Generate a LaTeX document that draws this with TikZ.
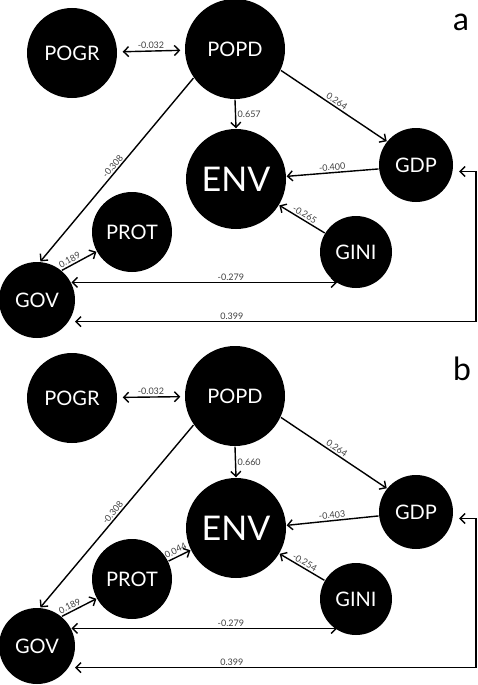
\documentclass[tikz,border=0pt]{standalone}
\usepackage{fontspec}
\setmainfont{Lato}
\usepackage{tikz}
\usetikzlibrary{arrows.meta}

\begin{document}
\begin{tikzpicture}[> = {Straight Barb[length=5pt,width=10pt]}, % arrow head style
	x=1pt, y=-1pt, % pixel-like grid, y going down
	line width=1.4pt,
	var/.style={circle,fill=black,text=white,inner sep=0pt,font=\fontsize{20}{20}\selectfont},
	coef/.style={font=\fontsize{9}{9}\selectfont,text=black!75,inner sep=1.5pt},
	panel/.style={font=\fontsize{32}{32}\selectfont}]
	\useasboundingbox (0,0) rectangle (478,685);

	% panel a
	\node[panel] (labA) at (461,22) {a};
	\node[var,minimum size=90pt] (pogrA) at (72,53) {POGR};
	\node[var,minimum size=100pt] (popdA) at (235,49) {POPD};
	\node[var,minimum size=100pt,font=\fontsize{34}{34}\selectfont] (envA) at (236,179) {ENV};
	\node[var,minimum size=74pt] (gdpA) at (416,165) {GDP};
	\node[var,minimum size=72pt] (giniA) at (356,252) {GINI};
	\node[var,minimum size=80pt] (protA) at (132,232) {PROT};
	\node[var,minimum size=76pt] (govA) at (37,300) {GOV};
	\coordinate (edgeA) at (476,0);

	\draw [<->,shorten <=5pt,shorten >=4pt] (pogrA) -- node[coef,above] {-0.032} (popdA);
	\draw [->] (popdA.south) -- node[coef,right] {0.657} (envA.north);
	\draw [->] (popdA.-25) -- node[coef,above,sloped] {0.264} (gdpA.141);
	\draw [->] (popdA.-145) -- node[coef,above,sloped] {-0.308} (govA.85);
	\draw [->] (gdpA.186) -- node[coef,above,sloped] {-0.400} (envA.3);
	\draw [->] (giniA) -- node[coef,above,sloped] {-0.265} (envA);
	\draw [->] (govA.50) -- node[coef,above,sloped,pos=0.3] {0.189} (protA.-151);
	\draw [<->] (govA.27) -- node[coef,above,pos=0.6] {-0.279} (govA.27 -| giniA.-121);
	\draw [<->,shorten <=6pt,shorten >=6pt] (gdpA.-10) -- (gdpA.-10 -| edgeA)
		-- (govA.-34 -| edgeA) -- node[coef,above,pos=0.6] {0.399} (govA.-34);

	% panel b
	\begin{scope}[shift={(0,347)}]
	\node[panel] (labB) at (462,22) {b};
	\node[var,minimum size=90pt] (pogrB) at (72,51) {POGR};
	\node[var,minimum size=100pt] (popdB) at (235,49) {POPD};
	\node[var,minimum size=100pt,font=\fontsize{34}{34}\selectfont] (envB) at (236,181) {ENV};
	\node[var,minimum size=74pt] (gdpB) at (416,165) {GDP};
	\node[var,minimum size=72pt] (giniB) at (356,252) {GINI};
	\node[var,minimum size=80pt] (protB) at (132,232) {PROT};
	\node[var,minimum size=76pt] (govB) at (37,299) {GOV};
	\coordinate (edgeB) at (476,0);

	\draw [<->,shorten <=5pt,shorten >=4pt] (pogrB) -- node[coef,above] {-0.032} (popdB);
	\draw [->] (popdB.south) -- node[coef,right] {0.660} (envB.north);
	\draw [->] (popdB.-25) -- node[coef,above,sloped] {0.264} (gdpB.141);
	\draw [->] (popdB.-145) -- node[coef,above,sloped] {-0.308} (govB.85);
	\draw [->] (gdpB.186) -- node[coef,above,sloped] {-0.403} (envB.3);
	\draw [->] (giniB) -- node[coef,above,sloped] {-0.254} (envB);
	\draw [->] (protB) -- node[coef,above=1pt,sloped,pos=0.45] {0.044} (envB);
	\draw [->] (govB.50) -- node[coef,above,sloped,pos=0.3] {0.189} (protB.-151);
	\draw [<->] (govB.27) -- node[coef,above,pos=0.6] {-0.279} (govB.27 -| giniB.-121);
	\draw [<->,shorten <=6pt,shorten >=6pt] (gdpB.-10) -- (gdpB.-10 -| edgeB)
		-- (govB.-34 -| edgeB) -- node[coef,above,pos=0.6] {0.399} (govB.-34);
	\end{scope}
\end{tikzpicture}
\end{document}
